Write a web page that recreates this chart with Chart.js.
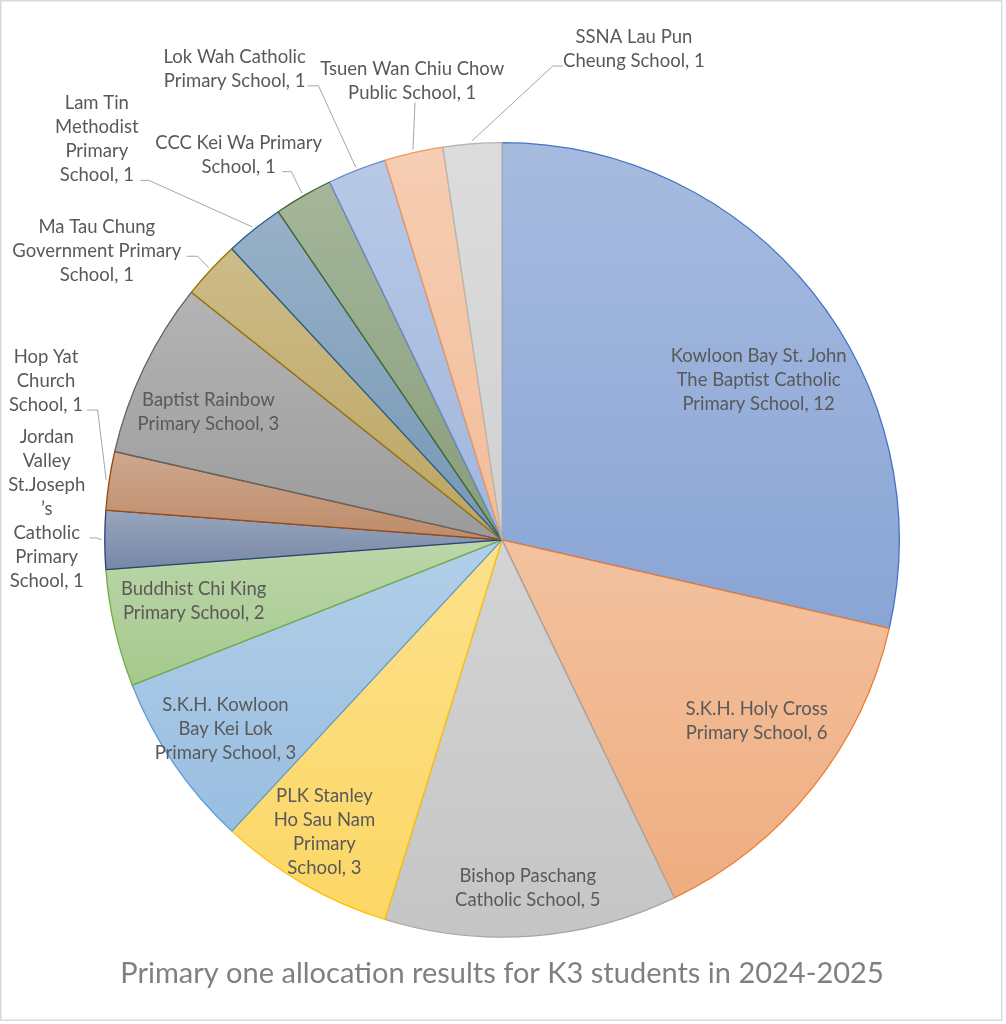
<!DOCTYPE html>
<html>
<head>
<meta charset="utf-8">
<title>Primary one allocation results</title>
<script src="https://cdn.jsdelivr.net/npm/chart.js@4.4.1/dist/chart.umd.min.js"></script>
<style>
    html, body { margin: 0; padding: 0; background: #fff; }
    #pieChart { display: block; width: 1006px; height: 1024px; }
</style>
</head>
<body>
<canvas id="pieChart" width="1006" height="1024"></canvas>
<script>
// School names (one entry per line of the label) and number of students
const schools = [
    ['Kowloon Bay St. John', 'The Baptist Catholic', 'Primary School'],
    ['S.K.H. Holy Cross', 'Primary School'],
    ['Bishop Paschang', 'Catholic School'],
    ['PLK Stanley', 'Ho Sau Nam', 'Primary', 'School'],
    ['S.K.H. Kowloon', 'Bay Kei Lok', 'Primary School'],
    ['Buddhist Chi King', 'Primary School'],
    ['Jordan', 'Valley', 'St.Joseph', '\u2019s', 'Catholic', 'Primary', 'School'],
    ['Hop Yat', 'Church', 'School'],
    ['Baptist Rainbow', 'Primary School'],
    ['Ma Tau Chung', 'Government Primary', 'School'],
    ['Lam Tin', 'Methodist', 'Primary', 'School'],
    ['CCC Kei Wa Primary', 'School'],
    ['Lok Wah Catholic', 'Primary School'],
    ['Tsuen Wan Chiu Chow', 'Public School'],
    ['SSNA Lau Pun', 'Cheung School']
];
const students = [12, 6, 5, 3, 3, 2, 1, 1, 3, 1, 1, 1, 1, 1, 1];

const chartTitle = 'Primary one allocation results for K3 students in 2024-2025';

// Office theme colours, in slice order
const sliceColors = [
    '#4472C4', '#ED7D31', '#A5A5A5', '#FFC000', '#5B9BD5', '#70AD47',
    '#264478', '#9E480E', '#636363', '#997300', '#255E91', '#43682B',
    '#698ED0', '#F1975A', '#B7B7B7'
];

// Label centre, in pie radii from the pie centre
const labelAt = [
    [0.646, -0.402], [0.641, 0.455], [0.065, 0.877], [-0.447, 0.736],
    [-0.696, 0.477], [-0.776, 0.153], [-1.146, -0.078], [-1.148, -0.399],
    [-0.739, -0.322], [-1.020, -0.726], [-1.020, -1.008], [-0.663, -0.970],
    [-0.673, -1.186], [-0.226, -1.156], [0.332, -1.236]
];
// Leader line start (x, y) and elbow x, in radii; null = label sits inside
const leaderFrom = [
    null, null, null, null, null, null,
    [-1.038, -0.005, -1.020], [-1.045, -0.327, -1.018], null,
    [-0.794, -0.714, -0.766], [-0.910, -0.905, -0.889], [-0.553, -0.927, -0.530],
    [-0.490, -1.143, -0.462], [-0.219, -1.101, -0.219], [0.153, -1.193, 0.128]
];

const LABEL_FONT = '18.5px Lato';
const LINE_GAP = 24;

// lighten towards white, then take a little saturation out
function tint(hex, t) {
    const n = parseInt(hex.slice(1), 16);
    const c = [(n >> 16) & 255, (n >> 8) & 255, n & 255].map(v => v + (255 - v) * t);
    const lum = 0.299 * c[0] + 0.587 * c[1] + 0.114 * c[2];
    return 'rgb(' + c.map(v => Math.round(v + (lum - v) * 0.08)).join(',') + ')';
}

// vertical gradient over each slice's own height, lighter at the top
function sliceFill(context) {
    const chart = context.chart;
    const area = chart.chartArea;
    const i = context.dataIndex;
    if (!area) return tint(sliceColors[i], 0.45);
    const cx = (area.left + area.right) / 2;
    const cy = (area.top + area.bottom) / 2;
    const r = Math.min(area.right - area.left, area.bottom - area.top) / 2;
    const total = students.reduce((a, b) => a + b, 0);
    const before = students.slice(0, i).reduce((a, b) => a + b, 0);
    const a0 = -Math.PI / 2 + before / total * Math.PI * 2;
    const a1 = a0 + students[i] / total * Math.PI * 2;
    let top = cy, bottom = cy;
    for (let k = 0; k <= 60; k++) {
        const y = cy + r * Math.sin(a0 + (a1 - a0) * k / 60);
        top = Math.min(top, y);
        bottom = Math.max(bottom, y);
    }
    const g = chart.ctx.createLinearGradient(0, top, 0, bottom + 1);
    g.addColorStop(0, tint(sliceColors[i], 0.52));
    g.addColorStop(1, tint(sliceColors[i], 0.36));
    return g;
}

const frame = {
    id: 'frame',
    beforeDraw(chart) {
        const ctx = chart.ctx;
        ctx.save();
        ctx.fillStyle = '#fff';
        ctx.fillRect(0, 0, chart.width, chart.height);
        ctx.strokeStyle = '#D9D9D9';
        ctx.lineWidth = 1.5;
        ctx.strokeRect(0.75, 0.75, 1001, 1019.5);
        ctx.restore();
    }
};

const pieLabels = {
    id: 'pieLabels',
    afterDatasetsDraw(chart) {
        const ctx = chart.ctx;
        const meta = chart.getDatasetMeta(0);
        ctx.save();
        ctx.font = LABEL_FONT;
        ctx.fillStyle = '#595959';
        ctx.strokeStyle = '#A6A6A6';
        ctx.lineWidth = 1;
        ctx.textAlign = 'center';
        ctx.textBaseline = 'middle';
        meta.data.forEach((arc, i) => {
            const p = arc.getProps(['x', 'y', 'outerRadius', 'startAngle', 'endAngle'], true);
            const r = p.outerRadius;
            const lines = schools[i].slice();
            lines[lines.length - 1] += ', ' + students[i];
            const lx = p.x + labelAt[i][0] * r;
            const ly = p.y + labelAt[i][1] * r;
            const top = ly - (lines.length - 1) * LINE_GAP / 2;
            lines.forEach((t, k) => ctx.fillText(t, lx, top + k * LINE_GAP));

            const lead = leaderFrom[i];
            if (lead) {
                const mid = (p.startAngle + p.endAngle) / 2;
                ctx.beginPath();
                ctx.moveTo(p.x + lead[0] * r, p.y + lead[1] * r);
                ctx.lineTo(p.x + lead[2] * r, p.y + lead[1] * r);
                ctx.lineTo(p.x + Math.cos(mid) * (r + 3), p.y + Math.sin(mid) * (r + 3));
                ctx.stroke();
            }
        });
        ctx.restore();
    }
};

new Chart(document.getElementById('pieChart'), {
    type: 'pie',
    data: {
        labels: schools,
        datasets: [{
            data: students,
            backgroundColor: sliceFill,
            borderColor: sliceColors,
            borderWidth: 1.3
        }]
    },
    options: {
        responsive: false,
        animation: false,
        events: [],
        layout: {
            padding: { left: 104, right: 106, top: 142, bottom: 0 }
        },
        plugins: {
            legend: { display: false },
            tooltip: { enabled: false },
            title: {
                display: true,
                position: 'bottom',
                text: chartTitle,
                color: '#808080',
                font: { family: 'Lato', size: 29, weight: 'normal' },
                padding: { top: 18.6, bottom: 32.8 }
            }
        }
    },
    plugins: [frame, pieLabels]
});
</script>
</body>
</html>
